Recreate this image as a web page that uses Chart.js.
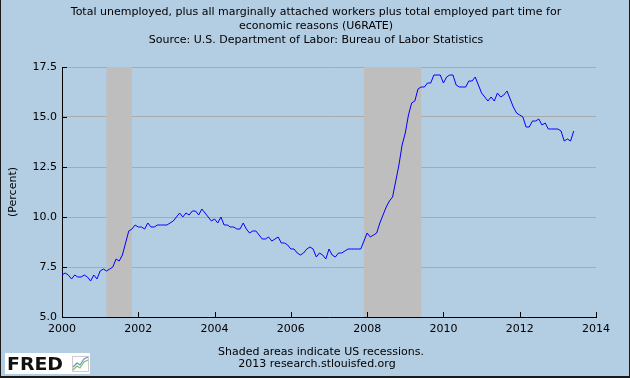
<!DOCTYPE html>
<html>
<head>
<meta charset="utf-8">
<script src="https://cdn.jsdelivr.net/npm/chart.js@4"></script>
<style>
  body { margin: 0; background: #B3CDE3; }
  #wrap { width: 630px; height: 378px; }
  canvas { display: block; }
</style>
</head>
<body>
<div id="wrap"><canvas id="chart" width="630" height="378"></canvas></div>
<script>
// U6RATE, monthly, Jan 2000 .. Jun 2013 (percent)
const startYear = 2000;
const u6 = [
  // 2000
  7.1, 7.2, 7.1, 6.9, 7.1, 7.0, 7.0, 7.1, 7.0, 6.8, 7.1, 6.9,
  // 2001
  7.3, 7.4, 7.3, 7.4, 7.5, 7.9, 7.8, 8.1, 8.7, 9.3, 9.4, 9.6,
  // 2002
  9.5, 9.5, 9.4, 9.7, 9.5, 9.5, 9.6, 9.6, 9.6, 9.6, 9.7, 9.8,
  // 2003
  10.0, 10.2, 10.0, 10.2, 10.1, 10.3, 10.3, 10.1, 10.4, 10.2, 10.0, 9.8,
  // 2004
  9.9, 9.7, 10.0, 9.6, 9.6, 9.5, 9.5, 9.4, 9.4, 9.7, 9.4, 9.2,
  // 2005
  9.3, 9.3, 9.1, 8.9, 8.9, 9.0, 8.8, 8.9, 9.0, 8.7, 8.7, 8.6,
  // 2006
  8.4, 8.4, 8.2, 8.1, 8.2, 8.4, 8.5, 8.4, 8.0, 8.2, 8.1, 7.9,
  // 2007
  8.4, 8.1, 8.0, 8.2, 8.2, 8.3, 8.4, 8.4, 8.4, 8.4, 8.4, 8.8,
  // 2008
  9.2, 9.0, 9.1, 9.2, 9.7, 10.1, 10.5, 10.8, 11.0, 11.8, 12.6, 13.6,
  // 2009
  14.2, 15.1, 15.7, 15.8, 16.4, 16.5, 16.5, 16.7, 16.7, 17.1, 17.1, 17.1,
  // 2010
  16.7, 17.0, 17.1, 17.1, 16.6, 16.5, 16.5, 16.5, 16.8, 16.8, 17.0, 16.6,
  // 2011
  16.2, 16.0, 15.8, 16.0, 15.8, 16.2, 16.0, 16.1, 16.3, 15.9, 15.5, 15.2,
  // 2012
  15.1, 15.0, 14.5, 14.5, 14.8, 14.8, 14.9, 14.6, 14.7, 14.4, 14.4, 14.4,
  // 2013
  14.4, 14.3, 13.8, 13.9, 13.8, 14.3
];

// recessions as [start, end] in decimal years
const recessions = [
  [2001 + 2 / 12, 2001 + 10 / 12],
  [2007 + 11 / 12, 2009 + 5 / 12]
];

const yearTicks = [2000, 2002, 2004, 2006, 2008, 2010, 2012, 2014];
const percentTicks = [5.0, 7.5, 10.0, 12.5, 15.0, 17.5];

const titleLines = [
  'Total unemployed, plus all marginally attached workers plus total employed part time for',
  'economic reasons (U6RATE)',
  'Source: U.S. Department of Labor: Bureau of Labor Statistics'
];
const footerLines = [
  'Shaded areas indicate US recessions.',
  '2013 research.stlouisfed.org'
];

const points = u6.map((v, i) => ({ x: startYear + i / 12, y: v }));

const FONT = '"DejaVu Sans", sans-serif';

// ─── Recession shading ───────────────────────────────────────────────────
const recessionPlugin = {
  id: 'recessions',
  beforeDatasetsDraw(chart) {
    const { ctx, chartArea, scales } = chart;
    ctx.save();
    ctx.fillStyle = '#BEBEBE';
    recessions.forEach(([a, b]) => {
      const x0 = scales.x.getPixelForValue(a);
      const x1 = scales.x.getPixelForValue(b);
      ctx.fillRect(x0, chartArea.top, x1 - x0, chartArea.bottom - chartArea.top);
    });
    ctx.restore();
  }
};

// ─── Texts, inner ticks, logo, frame ─────────────────────────────────────
const decorPlugin = {
  id: 'decor',
  afterDraw(chart) {
    const { ctx, chartArea, scales } = chart;
    ctx.save();

    // inner ticks
    ctx.strokeStyle = '#000';
    ctx.lineWidth = 1;
    ctx.beginPath();
    yearTicks.forEach(t => {
      const x = Math.round(scales.x.getPixelForValue(t)) + 0.5;
      ctx.moveTo(x, chartArea.bottom);
      ctx.lineTo(x, chartArea.bottom - 5);
    });
    percentTicks.forEach(t => {
      const y = Math.round(scales.y.getPixelForValue(t)) + 0.5;
      ctx.moveTo(chartArea.left, y);
      ctx.lineTo(chartArea.left + 5, y);
    });
    ctx.stroke();

    // titles
    ctx.fillStyle = '#000';
    ctx.font = '11px ' + FONT;
    ctx.textAlign = 'center';
    ctx.textBaseline = 'middle';
    titleLines.forEach((t, i) => ctx.fillText(t, 316, 12 + i * 14));
    ctx.fillText(footerLines[0], 321, 352);
    ctx.fillText(footerLines[1], 317, 364);

    // y axis title
    ctx.save();
    ctx.translate(13, 192);
    ctx.rotate(-Math.PI / 2);
    ctx.fillText('(Percent)', 0, 0);
    ctx.restore();

    // FRED logo
    ctx.fillStyle = '#fff';
    ctx.fillRect(5, 353, 85, 21);
    ctx.save();
    ctx.fillStyle = '#111';
    ctx.font = 'bold 17px ' + FONT;
    ctx.textAlign = 'left';
    ctx.textBaseline = 'alphabetic';
    const w = ctx.measureText('FRED').width;
    ctx.translate(7, 370);
    ctx.scale(56 / w, 1);
    ctx.fillText('FRED', 0, 0);
    ctx.restore();
    ctx.strokeStyle = '#ccc';
    ctx.strokeRect(72.5, 356.5, 16, 15);
    ctx.lineWidth = 1.2;
    ctx.strokeStyle = '#7fbf5f';
    ctx.beginPath();
    ctx.moveTo(73, 370); ctx.lineTo(77, 366); ctx.lineTo(80, 368); ctx.lineTo(84, 362); ctx.lineTo(88, 360);
    ctx.stroke();
    ctx.strokeStyle = '#6a8fd0';
    ctx.beginPath();
    ctx.moveTo(73, 367); ctx.lineTo(77, 363); ctx.lineTo(80, 365); ctx.lineTo(84, 359); ctx.lineTo(88, 357);
    ctx.stroke();

    // outer frame
    ctx.fillStyle = '#1a1a1a';
    ctx.fillRect(0, 0, 1, 378);
    ctx.fillRect(629, 0, 1, 378);
    ctx.fillRect(0, 376, 630, 2);

    ctx.restore();
  }
};

// ─── Chart ───────────────────────────────────────────────────────────────
new Chart(document.getElementById('chart').getContext('2d'), {
  type: 'line',
  data: {
    datasets: [{
      label: 'U6RATE',
      data: points,
      borderColor: '#0000FF',
      borderWidth: 1,
      pointRadius: 0,
      tension: 0,
      fill: false
    }]
  },
  options: {
    responsive: false,
    animation: false,
    devicePixelRatio: 1,
    layout: { padding: { top: 67, right: 34, bottom: 0, left: 0 } },
    plugins: {
      legend: { display: false },
      title: { display: false },
      tooltip: { enabled: false }
    },
    scales: {
      x: {
        type: 'linear',
        min: 2000,
        max: 2014,
        afterFit: s => { s.height = 61; },
        afterBuildTicks: s => { s.ticks = yearTicks.map(v => ({ value: v })); },
        ticks: {
          color: '#000',
          font: { family: FONT, size: 11 },
          padding: 6,
          maxRotation: 0,
          autoSkip: false,
          callback: v => String(v)
        },
        grid: { display: false, drawTicks: false },
        border: { color: '#000', width: 1 }
      },
      y: {
        min: 5,
        max: 17.5,
        afterFit: s => { s.width = 62; },
        afterBuildTicks: s => { s.ticks = percentTicks.map(v => ({ value: v })); },
        ticks: {
          color: '#000',
          font: { family: FONT, size: 11 },
          padding: 5,
          callback: v => v.toFixed(1)
        },
        grid: { color: '#AAAAAA', drawTicks: false },
        border: { color: '#000', width: 1 }
      }
    }
  },
  plugins: [recessionPlugin, decorPlugin]
});
</script>
</body>
</html>
